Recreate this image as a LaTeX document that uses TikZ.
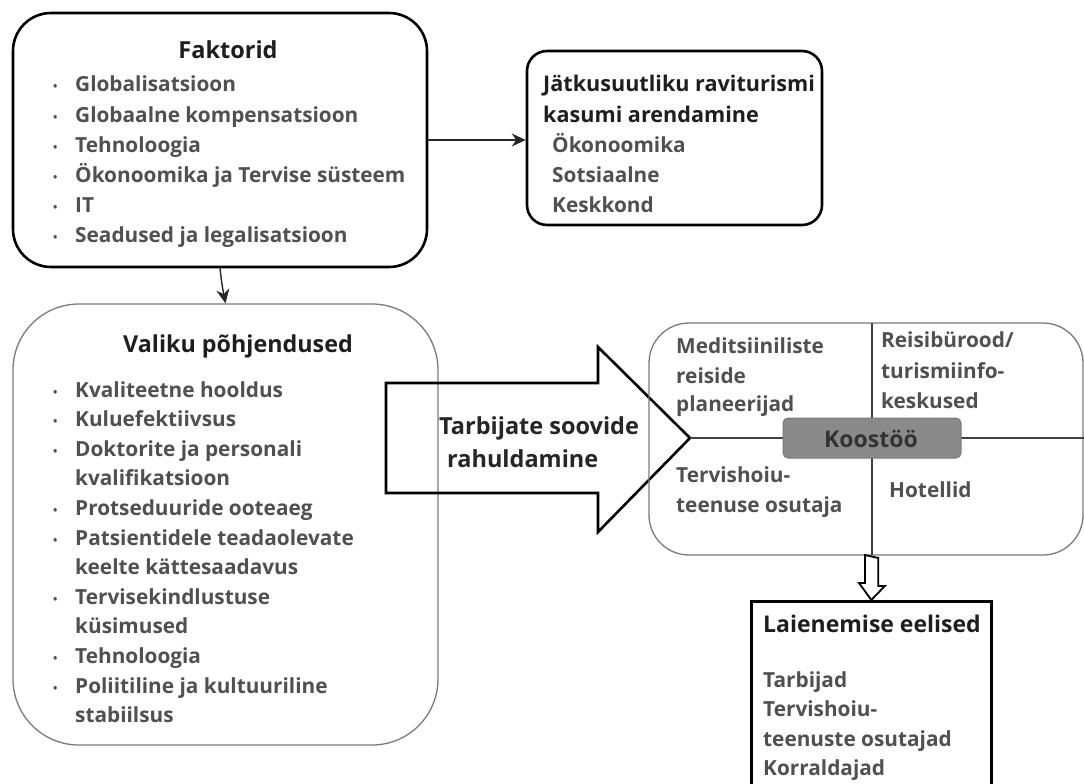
\documentclass[tikz,border=0pt]{standalone}
\usepackage{fontspec}
\setmainfont{Open Sans}
\usetikzlibrary{arrows.meta}
\definecolor{itemgray}{HTML}{505050}
\definecolor{titleblk}{HTML}{1E1E1E}
\definecolor{boxgray}{HTML}{7A7A7A}
\definecolor{koofill}{HTML}{8A8A8A}
\newcommand{\blt}{\makebox[22pt][l]{\raisebox{1pt}{\fontsize{11.5}{11.5}\selectfont\textbullet}}}
\tikzset{
  thickbox/.style={draw=black, line width=2.6pt, fill=none, inner sep=0pt},
  thinbox/.style={draw=boxgray, line width=1.3pt, fill=none, inner sep=0pt},
  item/.style={anchor=base west, inner sep=0pt, text=itemgray, font=\bfseries\fontsize{20.8}{22}\selectfont},
  ttl/.style={inner sep=0pt, text=titleblk, font=\bfseries\fontsize{23}{25}\selectfont},
  conn/.style={draw=black!85, line width=1.4pt, -{Stealth[length=14pt,width=13pt]}},
  divline/.style={draw=black!75, line width=1.4pt},
}
\begin{document}
\begin{tikzpicture}[x=1pt,y=-1pt]
\useasboundingbox (0,0) rectangle (1084,784);

% ---------- Faktorid ----------
\node[thickbox, rounded corners=38pt, minimum width=414pt, minimum height=254pt] (fak) at (220,140) {};
\node[ttl, anchor=base, font=\bfseries\fontsize{23.5}{25}\selectfont] (fakt) at (228,59) {Faktorid};
\foreach \t [count=\i] in {Globalisatsioon, Globaalne kompensatsioon, Tehnoloogia, {Ökonoomika ja Tervise süsteem}, IT, Seadused ja legalisatsioon}
  \node[item, name=f\i] at (53,{62+30*\i}) {\blt\t};

% ---------- Jatkusuutliku ----------
\node[thickbox, rounded corners=20pt, minimum width=295pt, minimum height=174pt] (jat) at (674.5,138) {};
\node[ttl, anchor=base west, font=\bfseries\fontsize{21.6}{24}\selectfont] (jat1) at (543,92) {Jätkusuutliku raviturismi};
\node[ttl, anchor=base west, font=\bfseries\fontsize{21.6}{24}\selectfont] (jat2) at (543,122) {kasumi arendamine};
\node[item] (j1) at (552,152) {Ökonoomika};
\node[item] (j2) at (552,182) {Sotsiaalne};
\node[item] (j3) at (552,212) {Keskkond};

\draw[conn] (fak.east) -- (fak.east -| jat.west);

% ---------- Valiku ----------
\node[thinbox, rounded corners=66pt, minimum width=425pt, minimum height=441pt] (val) at (225.5,524.5) {};
\node[ttl, anchor=base west, font=\bfseries\fontsize{23.3}{25}\selectfont] (valt) at (123,352) {Valiku põhjendused};
\node[item] (v1) at (53,397) {\blt Kvaliteetne hooldus};
\node[item] (v2) at (53,426.6) {\blt Kuluefektiivsus};
\node[item] (v3) at (53,456.2) {\blt Doktorite ja personali};
\node[item] (v4) at (53,485.8) {\hspace*{22pt}kvalifikatsioon};
\node[item] (v5) at (53,515.4) {\blt Protseduuride ooteaeg};
\node[item] (v6) at (53,545.0) {\blt Patsientidele teadaolevate};
\node[item] (v7) at (53,574.6) {\hspace*{22pt}keelte kättesaadavus};
\node[item] (v8) at (53,604.2) {\blt Tervisekindlustuse};
\node[item] (v9) at (53,633.8) {\hspace*{22pt}küsimused};
\node[item] (v10) at (53,663.4) {\blt Tehnoloogia};
\node[item] (v11) at (53,693.0) {\blt Poliitiline ja kultuuriline};
\node[item] (v12) at (53,722.6) {\hspace*{22pt}stabiilsus};

\draw[conn] (fak.south) .. controls (222,285) .. (val.north);

% ---------- block arrow ----------
\coordinate (ba1) at (386,383);
\coordinate (batip) at (690,438);
\draw[line width=2.6pt, line join=miter] (ba1) -- (598,383) -- (598,347) -- (batip) -- (598,532) -- (598,493) -- (386,493) -- cycle;
\node[ttl, anchor=base west, font=\bfseries\fontsize{23.5}{26}\selectfont, text=black!85] (tar1) at (439,434) {Tarbijate soovide};
\node[ttl, anchor=base west, font=\bfseries\fontsize{23.5}{26}\selectfont, text=black!85] (tar2) at (447,467) {rahuldamine};

% ---------- Koostoo container ----------
\node[thinbox, rounded corners=40pt, minimum width=434pt, minimum height=232pt] (koo) at (866,439) {};
\coordinate (vtop) at (872,323);
\coordinate (vbot) at (872,555);
\coordinate (hend) at (1084,438);
\draw[divline] (vtop) -- (vbot);
\draw[divline] (batip) -- (hend);
\node[draw=boxgray, fill=koofill, rounded corners=5pt, line width=1pt, minimum width=178pt, minimum height=40pt, inner sep=0pt] (kbox) at (872,438) {};
\node[inner sep=0pt, anchor=base, text=black!80, font=\bfseries\fontsize{23}{24}\selectfont] (ktxt) at (871,447) {Koostöö};

\node[item] (m1) at (676,353) {Meditsiiniliste};
\node[item] (m2) at (676,383) {reiside};
\node[item] (m3) at (676,411) {planeerijad};
\node[item] (r1) at (881,347) {Reisibürood/};
\node[item] (r2) at (881,378) {turismiinfo-};
\node[item] (r3) at (881,408) {keskused};
\node[item] (t1) at (676,482) {Tervishoiu-};
\node[item] (t2) at (676,512) {teenuse osutaja};
\node[item] (h1) at (889,497) {Hotellid};

% ---------- Laienemise ----------
\node[thickbox, minimum width=240pt, minimum height=200pt, anchor=north west] (lai) at (750,600) {};
\draw[line width=1.8pt, line join=miter] (vbot) ++(-7,0) -- ++(0,28) -- ++(-6,0) -- (lai.north) -- ++(13.5,-14) -- ++(-6.5,0) -- ++(0,-28) -- cycle;
\node[ttl, anchor=base west] (lait) at (763,632) {Laienemise eelised};
\node[item] (l1) at (763,687) {Tarbijad};
\node[item] (l2) at (763,716) {Tervishoiu-};
\node[item] (l3) at (763,746) {teenuste osutajad};
\node[item] (l4) at (763,775) {Korraldajad};
\end{tikzpicture}
\end{document}
